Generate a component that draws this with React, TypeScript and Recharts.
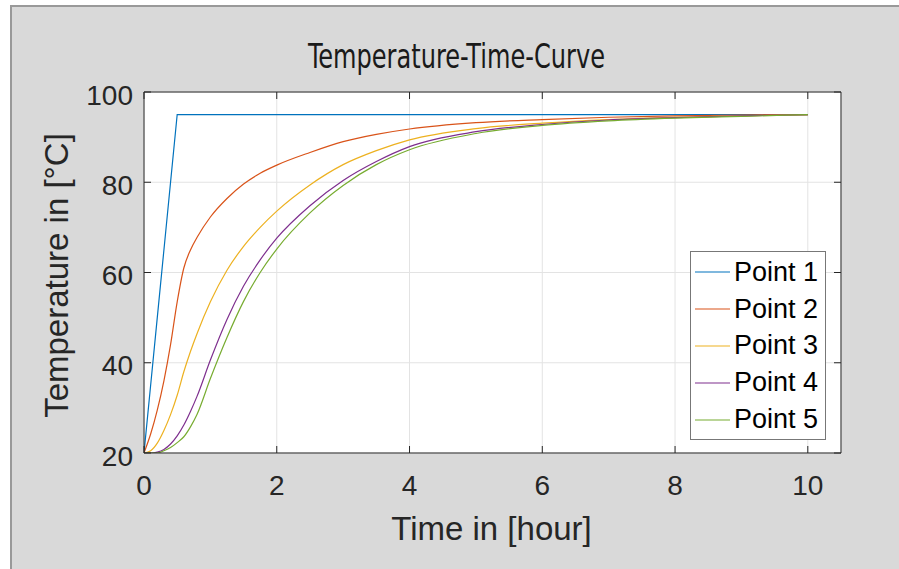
import React from 'react';
import { LineChart, Line, XAxis, YAxis, CartesianGrid, Legend, Label } from 'recharts';

// time in hours, temperatures in degC
const times = [0, 0.1, 0.2, 0.3, 0.4, 0.5, 0.6, 0.7, 0.8, 1, 1.25, 1.5, 1.75, 2, 2.5, 3, 3.5, 4, 5, 6, 7, 8, 9, 10];
const point1 = [20, 35, 50, 65, 80, 95, 95, 95, 95, 95, 95, 95, 95, 95, 95, 95, 95, 95, 95, 95, 95, 95, 95, 95];
const point2 = [20, 24.2, 29.5, 36, 44, 53.5, 61, 65, 67.8, 72.3, 76.4, 79.6, 82, 83.8, 86.6, 89, 90.6, 91.8, 93.2, 93.9, 94.4, 94.7, 94.9, 95];
const point3 = [20, 20.5, 22.2, 25, 28.5, 32.8, 38, 42.5, 46.5, 53.5, 60.5, 65.8, 70, 73.6, 79.4, 83.9, 87, 89.4, 91.9, 93.1, 93.9, 94.4, 94.7, 95];
const point4 = [20, 20, 20.2, 20.8, 22, 23.8, 26.2, 29.2, 32.6, 40.6, 49.6, 57, 62.8, 67.6, 74.8, 80.4, 84.6, 87.9, 91.2, 92.8, 93.8, 94.3, 94.7, 95];
const point5 = [20, 20, 20, 20.5, 21.2, 22.3, 23.6, 25.8, 28.6, 36.5, 45.6, 53.6, 60, 65.2, 73.2, 79.3, 83.9, 87.2, 90.8, 92.6, 93.6, 94.2, 94.6, 95];

const xTicks = [0, 2, 4, 6, 8, 10];
const yTicks = [20, 40, 60, 80, 100];

const seriesKeys = ['p1', 'p2', 'p3', 'p4', 'p5'];
const seriesNames = ['Point 1', 'Point 2', 'Point 3', 'Point 4', 'Point 5'];
const seriesColors = ['#0072BD', '#D95319', '#EDB120', '#7E2F8E', '#77AC30'];

const data = times.map((t, i) => ({
  t,
  p1: point1[i],
  p2: point2[i],
  p3: point3[i],
  p4: point4[i],
  p5: point5[i],
}));

const AXIS = '#262626';
const FONT = '"Liberation Sans", Arial, Helvetica, sans-serif';
const TICK_LEN = 7;

const BottomTick = (props: any) => {
  const { x, y, payload } = props;
  return (
    <g>
      <line x1={x} y1={y} x2={x} y2={y - TICK_LEN} stroke={AXIS} />
      <text x={x} y={y + 42} textAnchor="middle" fontSize={28} fill={AXIS} fontFamily={FONT}>
        {payload.value}
      </text>
    </g>
  );
};

const TopTick = (props: any) => {
  const { x, y } = props;
  return <line x1={x} y1={y} x2={x} y2={y + TICK_LEN} stroke={AXIS} />;
};

const LeftTick = (props: any) => {
  const { x, y, payload } = props;
  return (
    <g>
      <line x1={x} y1={y} x2={x + TICK_LEN} y2={y} stroke={AXIS} />
      <text x={x - 11} y={y + 12.5} textAnchor="end" fontSize={28} fill={AXIS} fontFamily={FONT}>
        {payload.value}
      </text>
    </g>
  );
};

const RightTick = (props: any) => {
  const { x, y } = props;
  return <line x1={x} y1={y} x2={x - TICK_LEN} y2={y} stroke={AXIS} />;
};

const XTitle = (props: any) => {
  const { x, y, width } = props.viewBox;
  return (
    <text x={x + width / 2 - 1} y={y + 87} textAnchor="middle" fontSize={33} fill={AXIS} fontFamily={FONT}>
      Time in [hour]
    </text>
  );
};

const YTitle = (props: any) => {
  const { x, y, height } = props.viewBox;
  const cx = x + 68;
  const cy = y + height / 2 + 3;
  return (
    <text
      x={cx}
      y={cy}
      transform={`rotate(-90, ${cx}, ${cy})`}
      textAnchor="middle"
      fontSize={33}
      fill={AXIS}
      fontFamily={FONT}
    >
      Temperature in [°C]
    </text>
  );
};

const ChartTitle = (props: any) => {
  const { x, width } = props.viewBox;
  return (
    <text
      x={x + width / 2 - 36}
      y={68}
      textAnchor="middle"
      fontSize={33}
      fill="#1a1a1a"
      fontFamily='"Liberation Sans Narrow", "DejaVu Sans Condensed", "Open Sans", sans-serif'
      textLength={297}
      lengthAdjust="spacingAndGlyphs"
    >
      Temperature-Time-Curve
    </text>
  );
};

const LegendBox = (props: any) => {
  const { payload } = props;
  return (
    <div
      style={{
        width: 136,
        height: 189,
        boxSizing: 'border-box',
        border: '1px solid #777',
        background: '#fff',
        paddingTop: 2,
        paddingLeft: 4,
      }}
    >
      {(payload || []).map((entry: any) => (
        <div key={entry.value} style={{ height: 36.8, display: 'flex', alignItems: 'center' }}>
          <svg width={35} height={4} style={{ display: 'block' }}>
            <line x1={0} y1={2} x2={35} y2={2} stroke={entry.color} strokeWidth={1.2} />
          </svg>
          <span style={{ marginLeft: 4, fontSize: 27, fontFamily: FONT, color: '#000', lineHeight: 1 }}>
            {entry.value}
          </span>
        </div>
      ))}
    </div>
  );
};

export default function App() {
  return (
    <div style={{ position: 'absolute', left: 0, top: 0, width: 899, height: 569, background: '#fff', overflow: 'hidden' }}>
      <div
        style={{
          position: 'absolute',
          left: 10,
          top: 5,
          right: 0,
          bottom: 0,
          background: '#d9d9d9',
          borderLeft: '2px solid #999',
          borderTop: '2px solid #999',
        }}
      />
      <LineChart
        width={899}
        height={569}
        data={data}
        margin={{ top: 62, right: 0, bottom: 0, left: 0 }}
        style={{ position: 'absolute', left: 0, top: 0 }}
      >
        <CartesianGrid stroke="#e3e3e3" fill="#fff" fillOpacity={1} />
        <XAxis
          dataKey="t"
          type="number"
          domain={[0, 10.5]}
          ticks={xTicks}
          interval={0}
          height={116}
          tickSize={0}
          tickMargin={0}
          tick={<BottomTick />}
          axisLine={{ stroke: AXIS }}
          allowDataOverflow
        >
          <Label content={<XTitle />} />
        </XAxis>
        <XAxis
          xAxisId="top"
          orientation="top"
          dataKey="t"
          type="number"
          domain={[0, 10.5]}
          ticks={xTicks}
          interval={0}
          height={30}
          tickSize={0}
          tickMargin={0}
          tick={<TopTick />}
          axisLine={{ stroke: AXIS }}
          allowDataOverflow
        >
          <Label content={<ChartTitle />} />
        </XAxis>
        <YAxis
          type="number"
          domain={[20, 100]}
          ticks={yTicks}
          interval={0}
          width={144}
          tickSize={0}
          tickMargin={0}
          tick={<LeftTick />}
          axisLine={{ stroke: AXIS }}
          allowDataOverflow
        >
          <Label content={<YTitle />} />
        </YAxis>
        <YAxis
          yAxisId="right"
          orientation="right"
          type="number"
          domain={[20, 100]}
          ticks={yTicks}
          interval={0}
          width={58}
          tickSize={0}
          tickMargin={0}
          tick={<RightTick />}
          axisLine={{ stroke: AXIS }}
          allowDataOverflow
        />
        {seriesKeys.map((key, i) => (
          <Line
            key={key}
            dataKey={key}
            name={seriesNames[i]}
            stroke={seriesColors[i]}
            strokeWidth={1.2}
            type={i === 0 ? 'linear' : 'monotone'}
            dot={false}
            activeDot={false}
            isAnimationActive={false}
          />
        ))}
        <Legend
          layout="horizontal"
          align="center"
          verticalAlign="middle"
          content={<LegendBox />}
          wrapperStyle={{ left: 690, top: 251, width: 136, height: 189 }}
        />
      </LineChart>
    </div>
  );
}
